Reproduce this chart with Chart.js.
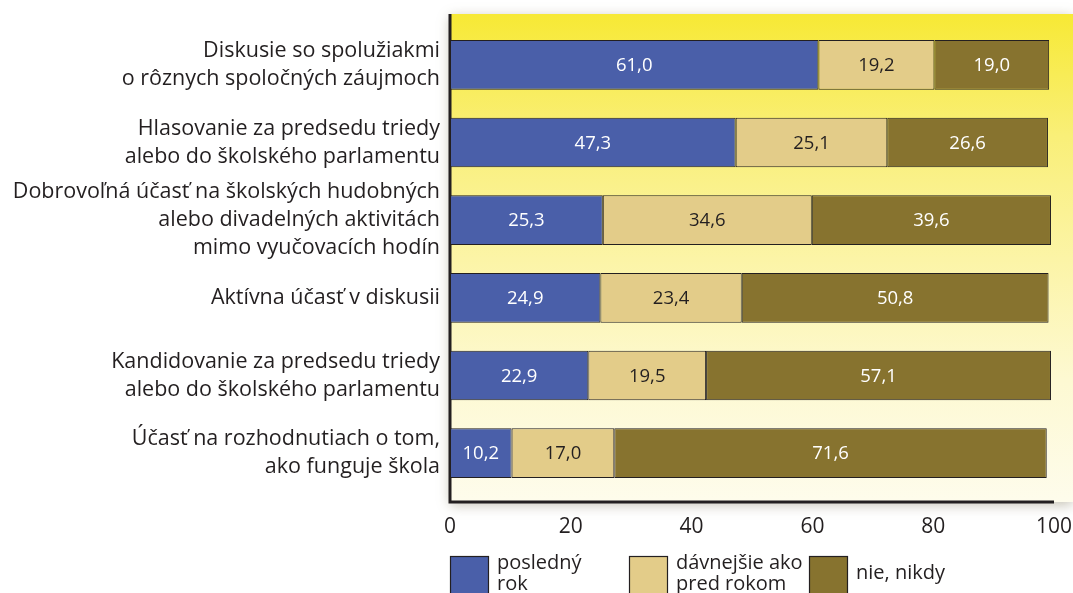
<!DOCTYPE html>
<html lang="sk">
<head>
<meta charset="utf-8">
<title>Účasť žiakov na aktivitách v škole</title>
<script src="https://cdn.jsdelivr.net/npm/chart.js@4"></script>
<style>
    html, body { margin: 0; padding: 0; background: #ffffff; }
    #wrap { position: relative; width: 1073px; height: 593px; }
</style>
</head>
<body>
<div id="wrap"><canvas id="chart" width="1073" height="593"></canvas></div>
<script>
// Kategórie (riadky grafu)
const categories = [
    ['Diskusie so spolužiakmi', 'o rôznych spoločných záujmoch'],
    ['Hlasovanie za predsedu triedy', 'alebo do školského parlamentu'],
    ['Dobrovoľná účasť na školských hudobných', 'alebo divadelných aktivitách', 'mimo vyučovacích hodín'],
    ['Aktívna účasť v diskusii'],
    ['Kandidovanie za predsedu triedy', 'alebo do školského parlamentu'],
    ['Účasť na rozhodnutiach o tom,', 'ako funguje škola']
];

// Hodnoty v %
const lastYear = [61.0, 47.3, 25.3, 24.9, 22.9, 10.2];
const earlier = [19.2, 25.1, 34.6, 23.4, 19.5, 17.0];
const never = [19.0, 26.6, 39.6, 50.8, 57.1, 71.6];

const xTicks = [0, 20, 40, 60, 80, 100];

const seriesNames = [['posledný', 'rok'], ['dávnejšie ako', 'pred rokom'], ['nie, nikdy']];
const seriesColors = ['#4a5fa9', '#e3cc89', '#87732f'];
const valueColors = ['#ffffff', '#231f20', '#ffffff'];

const FONT = '"Open Sans", "Noto Sans", sans-serif';

// Pozadie s prechodom + osi
const backgroundPlugin = {
    id: 'bg',
    beforeDraw(chart) {
        const { ctx, chartArea } = chart;
        const x0 = chartArea.left, x1 = chart.width;
        const y0 = chartArea.top - 12, y1 = chartArea.bottom + 10;
        ctx.save();
        const grad = ctx.createLinearGradient(0, y0, 0, y1);
        grad.addColorStop(0, '#f7e935');
        grad.addColorStop(0.25, '#f9ef78');
        grad.addColorStop(0.5, '#fcf4a6');
        grad.addColorStop(0.75, '#fdf9d2');
        grad.addColorStop(1, '#fefcec');
        ctx.shadowColor = 'rgba(90, 80, 40, 0.35)';
        ctx.shadowBlur = 12;
        ctx.shadowOffsetY = 3;
        ctx.fillStyle = grad;
        ctx.fillRect(x0, y0, x1 - x0, y1 - y0);
        ctx.restore();

        ctx.save();
        ctx.strokeStyle = '#231f20';
        ctx.lineWidth = 3;
        ctx.beginPath();
        ctx.moveTo(x0, y0);
        ctx.lineTo(x0, y1);
        ctx.lineTo(chartArea.right, y1);
        ctx.stroke();
        ctx.restore();
    }
};

// Hodnoty v stĺpcoch
const valuePlugin = {
    id: 'values',
    afterDatasetsDraw(chart) {
        const { ctx } = chart;
        ctx.save();
        ctx.font = '18.5px ' + FONT;
        ctx.textAlign = 'center';
        ctx.textBaseline = 'middle';
        chart.data.datasets.forEach((ds, i) => {
            chart.getDatasetMeta(i).data.forEach((bar, j) => {
                const cx = (bar.x + bar.base) / 2;
                ctx.fillStyle = valueColors[i];
                ctx.fillText(ds.data[j].toFixed(1).replace('.', ','), cx, bar.y + 1);
            });
        });
        ctx.restore();
    }
};

// Legenda pod grafom
const legendPlugin = {
    id: 'customLegend',
    afterDraw(chart) {
        const { ctx } = chart;
        const boxX = [450, 629, 809];
        const top = 556, size = 39;
        ctx.save();
        ctx.font = '20px ' + FONT;
        ctx.textBaseline = 'middle';
        ctx.textAlign = 'left';
        chart.data.datasets.forEach((ds, i) => {
            ctx.fillStyle = ds.backgroundColor;
            ctx.fillRect(boxX[i], top, size, size);
            ctx.strokeStyle = '#231f20';
            ctx.lineWidth = 1.2;
            ctx.strokeRect(boxX[i] + 0.5, top + 0.5, size - 1, size - 1);
            ctx.fillStyle = '#231f20';
            const lines = seriesNames[i];
            const startY = lines.length === 1 ? 573 : 563;
            lines.forEach((t, k) => ctx.fillText(t, boxX[i] + size + 8, startY + k * 21));
        });
        ctx.restore();
    }
};

new Chart(document.getElementById('chart'), {
    type: 'bar',
    data: {
        labels: categories,
        datasets: [lastYear, earlier, never].map((d, i) => ({
            label: seriesNames[i].join(' '),
            data: d,
            backgroundColor: seriesColors[i],
            borderColor: '#231f20',
            borderWidth: 1,
            borderSkipped: false,
            categoryPercentage: 1,
            barPercentage: 0.64
        }))
    },
    options: {
        indexAxis: 'y',
        responsive: false,
        animation: false,
        layout: { padding: { top: 26, right: 19, left: 0, bottom: 0 } },
        plugins: {
            legend: { display: false },
            tooltip: { enabled: false }
        },
        scales: {
            x: {
                stacked: true,
                min: 0,
                max: 100,
                afterBuildTicks: s => { s.ticks = xTicks.map(v => ({ value: v })); },
                afterFit: s => { s.height = 101; s.paddingLeft = 0; s.paddingRight = 0; },
                grid: { display: false, drawTicks: false },
                border: { display: false },
                ticks: {
                    padding: 22,
                    color: '#231f20',
                    font: { family: FONT, size: 21 }
                }
            },
            y: {
                stacked: true,
                afterFit: s => { s.width = 450; s.paddingTop = 0; s.paddingBottom = 0; },
                grid: { display: false, drawTicks: false },
                border: { display: false },
                ticks: {
                    autoSkip: false,
                    padding: 10,
                    color: '#231f20',
                    font: { family: FONT, size: 21.5, lineHeight: 1.3 }
                }
            }
        }
    },
    plugins: [backgroundPlugin, valuePlugin, legendPlugin]
});
</script>
</body>
</html>
